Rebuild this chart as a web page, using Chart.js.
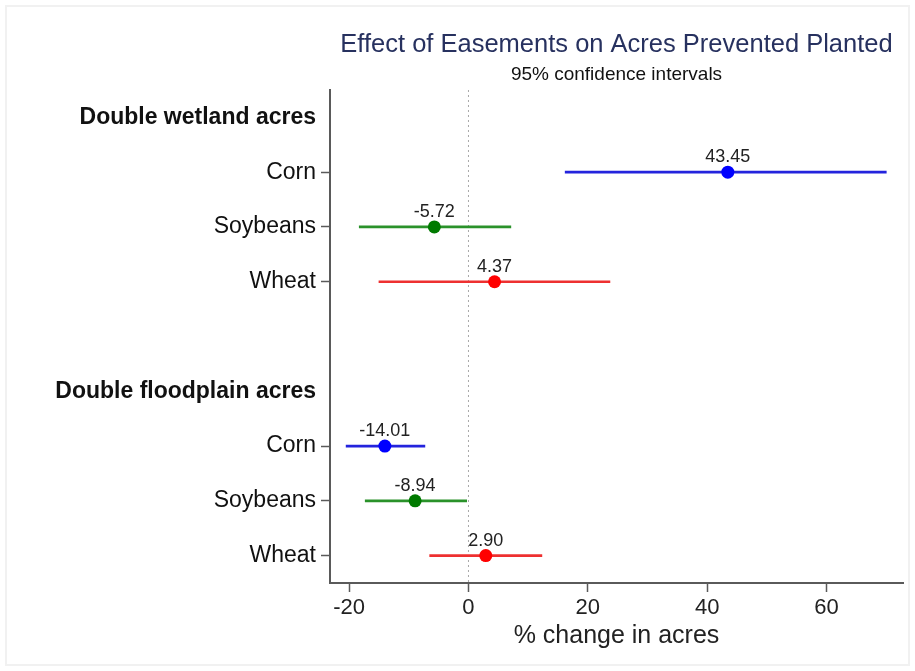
<!DOCTYPE html>
<html>
<head>
<meta charset="utf-8">
<script src="https://cdn.jsdelivr.net/npm/chart.js@4"></script>
<style>
  html, body { margin: 0; padding: 0; background: #fff; }
  #wrap { width: 915px; height: 671px; position: relative; }
</style>
</head>
<body>
<div id="wrap"><canvas id="ciChart"></canvas></div>
<script>
const rowLabels = ["Double wetland acres", "Corn", "Soybeans", "Wheat", "", "Double floodplain acres", "Corn", "Soybeans", "Wheat"];
const headerRows = [0, 5];
const estimates = [null, 43.45, -5.72, 4.37, null, null, -14.01, -8.94, 2.90];
const ciLow = [null, 16.2, -18.3, -15.0, null, null, -20.5, -17.3, -6.5];
const ciHigh = [null, 70.0, 7.1, 23.7, null, null, -7.3, -0.3, 12.3];
const xTicks = [-20, 0, 20, 40, 60];

const titleText = "Effect of Easements on Acres Prevented Planted";
const subtitleText = "95% confidence intervals";
const xTitle = "% change in acres";

const FONT = "'Liberation Sans', Arial, sans-serif";
const lineColors = { Corn: "#2323dd", Soybeans: "#2a922a", Wheat: "#ee3030" };
const dotColors = { Corn: "#0000ff", Soybeans: "#007a00", Wheat: "#ff0000" };

const isDataRow = (i) => estimates[i] !== null;

// white card with a faint frame
const background = {
  id: "background",
  beforeDraw(chart) {
    const { ctx, width, height } = chart;
    ctx.save();
    ctx.fillStyle = "#fff";
    ctx.fillRect(0, 0, width, height);
    ctx.strokeStyle = "#f1f1f1";
    ctx.lineWidth = 2;
    ctx.strokeRect(6, 6, width - 12, height - 12);
    ctx.restore();
  },
};

// dotted reference line at zero
const zeroLine = {
  id: "zeroLine",
  beforeDatasetsDraw(chart) {
    const { ctx, chartArea } = chart;
    const x = chart.scales.x.getPixelForValue(0);
    ctx.save();
    ctx.strokeStyle = "#a8a8a8";
    ctx.lineWidth = 1;
    ctx.setLineDash([2, 3]);
    ctx.beginPath();
    ctx.moveTo(x, chartArea.top);
    ctx.lineTo(x, chartArea.bottom);
    ctx.stroke();
    ctx.restore();
  },
};

// point value labels + titles centred over the plot
const annotations = {
  id: "annotations",
  afterDatasetsDraw(chart) {
    const { ctx, chartArea } = chart;
    ctx.save();
    ctx.font = `18px ${FONT}`;
    ctx.fillStyle = "#222";
    ctx.textAlign = "center";
    ctx.textBaseline = "bottom";
    chart.getDatasetMeta(1).data.forEach((pt, i) => {
      if (!isDataRow(i)) return;
      ctx.fillText(estimates[i].toFixed(2), pt.x, pt.y - 6);
    });

    const cx = (chartArea.left + chartArea.right) / 2;
    ctx.textBaseline = "middle";
    ctx.font = `25.5px ${FONT}`;
    ctx.fillStyle = "#27315f";
    ctx.fillText(titleText, cx, 45);
    ctx.font = `19px ${FONT}`;
    ctx.fillStyle = "#111";
    ctx.fillText(subtitleText, cx, 75);
    ctx.restore();
  },
};

new Chart(document.getElementById("ciChart"), {
  type: "bar",
  data: {
    labels: rowLabels,
    datasets: [
      {
        label: "95% CI",
        data: ciLow.map((lo, i) => (lo === null ? null : [lo, ciHigh[i]])),
        backgroundColor: rowLabels.map((l) => lineColors[l] || "transparent"),
        barThickness: 2,
        borderWidth: 0,
        order: 2,
      },
      {
        type: "line",
        label: "Estimate",
        data: estimates,
        showLine: false,
        pointRadius: 6.5,
        pointHoverRadius: 6.5,
        pointBorderWidth: 0,
        pointBackgroundColor: rowLabels.map((l) => dotColors[l] || "transparent"),
        order: 1,
      },
    ],
  },
  options: {
    indexAxis: "y",
    responsive: true,
    maintainAspectRatio: false,
    animation: false,
    layout: { padding: { top: 90, right: 12, bottom: 20, left: 0 } },
    scales: {
      x: {
        type: "linear",
        min: -23.2,
        max: 72.8,
        afterBuildTicks(scale) {
          scale.ticks = xTicks.map((v) => ({ value: v }));
        },
        afterFit(scale) {
          scale.height = 68;
        },
        border: { color: "#5a5a5a", width: 2 },
        grid: { drawOnChartArea: false, tickLength: 9, tickColor: "#5a5a5a", tickWidth: 1.5 },
        ticks: { color: "#222", font: { family: FONT, size: 22 }, padding: 3, maxRotation: 0 },
        title: {
          display: true,
          text: xTitle,
          color: "#222",
          font: { family: FONT, size: 25 },
          padding: { top: 0, bottom: 0 },
        },
      },
      y: {
        type: "category",
        offset: true,
        afterFit(scale) {
          scale.width = 330;
        },
        border: { color: "#5a5a5a", width: 2 },
        grid: {
          offset: false,
          drawOnChartArea: false,
          tickLength: 9,
          tickWidth: 1.5,
          tickColor: (c) => (isDataRow(c.index) ? "#5a5a5a" : "transparent"),
        },
        ticks: {
          color: "#111",
          padding: 5,
          autoSkip: false,
          font: (c) =>
            headerRows.includes(c.index)
              ? { family: FONT, size: 23, weight: "bold" }
              : { family: FONT, size: 23 },
        },
      },
    },
    plugins: {
      legend: { display: false },
      tooltip: { enabled: false },
    },
  },
  plugins: [background, zeroLine, annotations],
});
</script>
</body>
</html>
